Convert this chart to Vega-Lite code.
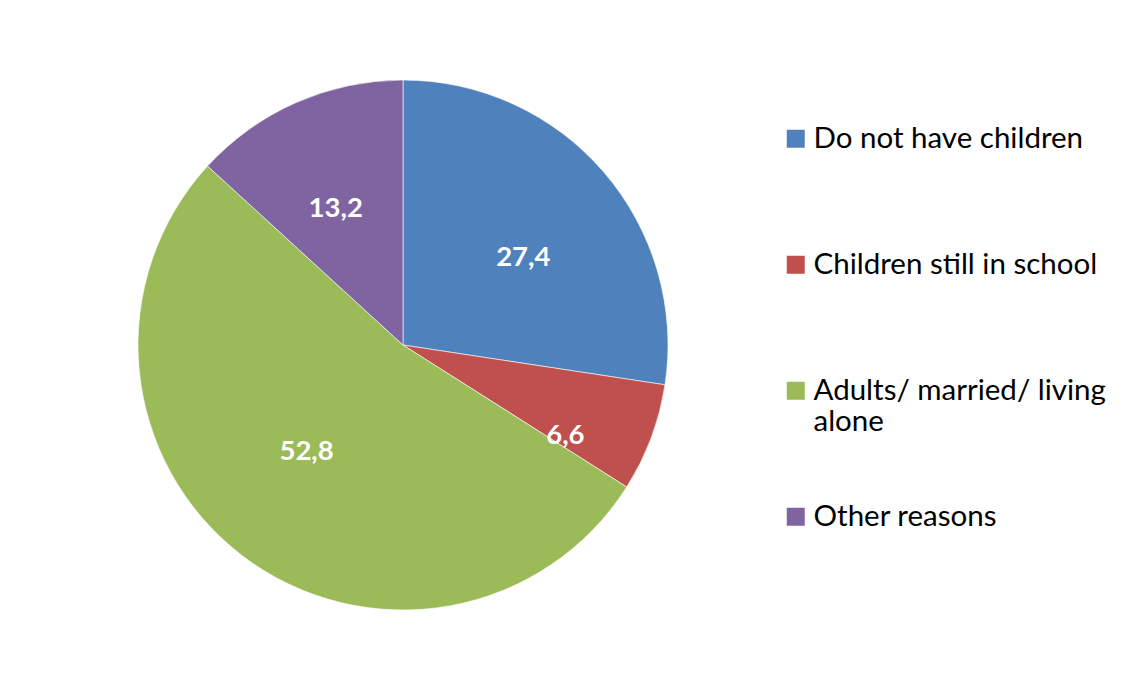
{
  "$schema": "https://vega.github.io/schema/vega-lite/v6.json",
  "width": 806,
  "height": 690,
  "padding": 0,
  "background": "white",
  "config": {
    "view": {"stroke": null},
    "legend": {"labelLineHeight": 38},
    "locale": {"number": {"decimal": ",", "thousands": ".", "grouping": [3], "currency": ["", "€"]}}
  },
  "data": {
    "values": [
      {"category": "Do not have children", "value": 27.4, "idx": 1},
      {"category": "Children still in school", "value": 6.6, "idx": 2},
      {"category": "Adults/ married/ living alone", "value": 52.8, "idx": 3},
      {"category": "Other reasons", "value": 13.2, "idx": 4}
    ]
  },
  "encoding": {
    "theta": {"field": "value", "type": "quantitative", "stack": true},
    "order": {"field": "idx", "type": "quantitative"},
    "color": {
      "field": "category",
      "type": "nominal",
      "scale": {
        "domain": ["Do not have children", "Children still in school", "Adults/ married/ living alone", "Other reasons"],
        "range": ["#4F81BD", "#C0504D", "#9BBB59", "#8064A2"]
      },
      "legend": {
        "orient": "none",
        "legendX": 781,
        "legendY": 124,
        "title": null,
        "symbolType": "square",
        "symbolSize": 324,
        "symbolStrokeWidth": 0,
        "labelFont": "Lato",
        "labelFontSize": 29.5,
        "labelColor": "#000000",
        "labelOffset": 3,
        "labelLimit": 400,
        "gridAlign": "all",
        "rowPadding": 64,
        "labelExpr": "datum.label == 'Adults/ married/ living alone' ? ['Adults/ married/ living', 'alone'] : datum.label",
        "encode": {"labels": {"enter": {"lineHeight": {"value": 38}}, "update": {"lineHeight": {"value": 38}}}}
      }
    }
  },
  "layer": [
    {
      "mark": {"type": "arc", "outerRadius": 265, "stroke": "white", "strokeWidth": 0.6}
    },
    {
      "mark": {"type": "text", "radius": 152, "dx": 5, "dy": 12, "font": "Lato", "fontSize": 27.5, "fontWeight": "bold", "fill": "white", "baseline": "middle", "align": "center"},
      "encoding": {
        "text": {"condition": {"test": "datum.category == 'Do not have children'", "field": "value", "type": "quantitative", "format": ".1f"}, "value": ""},
        "color": {"value": "white"}
      }
    },
    {
      "mark": {"type": "text", "radius": 152, "dx": 20, "dy": 38, "font": "Lato", "fontSize": 27.5, "fontWeight": "bold", "fill": "white", "baseline": "middle", "align": "center"},
      "encoding": {
        "text": {"condition": {"test": "datum.category == 'Children still in school'", "field": "value", "type": "quantitative", "format": ".1f"}, "value": ""},
        "color": {"value": "white"}
      }
    },
    {
      "mark": {"type": "text", "radius": 152, "dx": -4, "dy": -14, "font": "Lato", "fontSize": 27.5, "fontWeight": "bold", "fill": "white", "baseline": "middle", "align": "center"},
      "encoding": {
        "text": {"condition": {"test": "datum.category == 'Adults/ married/ living alone'", "field": "value", "type": "quantitative", "format": ".1f"}, "value": ""},
        "color": {"value": "white"}
      }
    },
    {
      "mark": {"type": "text", "radius": 152, "dx": -6, "dy": 3, "font": "Lato", "fontSize": 27.5, "fontWeight": "bold", "fill": "white", "baseline": "middle", "align": "center"},
      "encoding": {
        "text": {"condition": {"test": "datum.category == 'Other reasons'", "field": "value", "type": "quantitative", "format": ".1f"}, "value": ""},
        "color": {"value": "white"}
      }
    }
  ]
}
